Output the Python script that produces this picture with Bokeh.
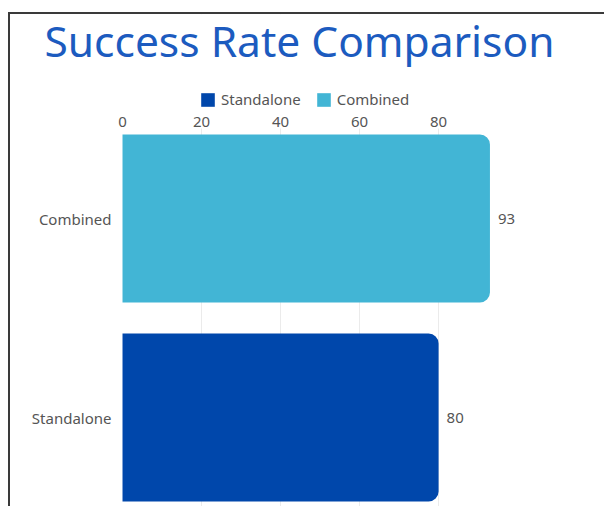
from bokeh.plotting import figure
from bokeh.models import (ColumnDataSource, Range1d, FixedTicker, Legend, LegendItem,
                          BoxAnnotation, Label)
from bokeh.core.properties import value
from bokeh.embed import file_html
from bokeh.resources import INLINE

# Data
categories = ["Standalone", "Combined"]
values = [80, 93]
colors = ["#0047ab", "#42b5d5"]
x_ticks = [0, 20, 40, 60, 80]
grid_ticks = [20, 40, 60, 80]
title_text = "Success Rate Comparison"

FONT = "Noto Sans"
LABEL_COLOR = "#555555"

# The plot frame fills the whole canvas; title, legend and both axes live inside it.
X_MIN, X_MAX = -28.35, 122.5
Y_MIN, Y_MAX = -0.457, 2.025
AXIS_Y = 1.452          # top axis line, just above the upper bar

positions = list(range(len(categories)))
src = ColumnDataSource(dict(y=positions, value=values,
                            label=[str(v) for v in values]))

p = figure(width=596, height=494, output_backend="svg", toolbar_location=None,
           x_range=Range1d(X_MIN, X_MAX), y_range=Range1d(Y_MIN, Y_MAX),
           x_axis_location="above",
           min_border_left=0, min_border_right=0, min_border_top=0,
           min_border_bottom=0)
p.outline_line_color = None
# thin dark frame line along the top and left of the chart card
p.styles = {"margin-left": "8px", "margin-top": "12px",
            "border-top": "2px solid #3a3a3a", "border-left": "2px solid #3a3a3a"}

# bars, rounded at the value end
renderers = []
for i in positions:
    sub = ColumnDataSource(dict(y=[positions[i]], value=[values[i]], color=[colors[i]]))
    r = p.hbar(y="y", right="value", left=0, height=0.844, fill_color="color",
               line_color=None, source=sub, border_radius=(0, 10, 10, 0))
    renderers.append(r)

# value labels at bar ends
p.text(x="value", y="y", text="label", source=src, x_offset=8,
       text_baseline="middle", text_align="left", text_font_size="15px",
       text_color=LABEL_COLOR, text_font=value(FONT))

# x axis (top), pinned just above the bars
xa = p.xaxis[0]
xa.fixed_location = AXIS_Y
xa.ticker = FixedTicker(ticks=x_ticks)
xa.axis_line_color = None
xa.major_tick_line_color = None
xa.minor_tick_line_color = None
xa.major_tick_out = 0
xa.major_tick_in = 0
xa.major_label_standoff = 2
xa.major_label_text_font = FONT
xa.major_label_text_font_size = "15px"
xa.major_label_text_color = LABEL_COLOR

# y axis (category labels), pinned at zero
ya = p.yaxis[0]
ya.fixed_location = 0
ya.ticker = FixedTicker(ticks=positions)
ya.major_label_overrides = {i: categories[i] for i in positions}
ya.axis_line_color = None
ya.major_tick_line_color = None
ya.minor_tick_line_color = None
ya.major_tick_out = 0
ya.major_tick_in = 0
ya.major_label_standoff = 11
ya.major_label_text_font = FONT
ya.major_label_text_font_size = "15px"
ya.major_label_text_color = LABEL_COLOR

p.xgrid.ticker = FixedTicker(ticks=grid_ticks)
p.xgrid.grid_line_color = "#ebebeb"
p.ygrid.grid_line_color = None

# keep grid lines out of the header strip above the axis
p.add_layout(BoxAnnotation(bottom=AXIS_Y, fill_color="white", fill_alpha=1,
                           line_color=None, level="underlay"))

# legend row between the title and the top axis
legend = Legend(items=[LegendItem(label=categories[i], renderers=[renderers[i]])
                       for i in positions],
                orientation="horizontal", location=(189, 399),
                glyph_width=17, glyph_height=17, label_standoff=5, spacing=14,
                padding=0, margin=0, border_line_color=None,
                background_fill_alpha=0,
                label_text_font=FONT, label_text_font_size="15px",
                label_text_color=LABEL_COLOR, label_height=17)
p.add_layout(legend)

# chart title
p.add_layout(Label(x=34, y=468, x_units="screen", y_units="screen",
                   text=title_text, text_font=FONT, text_font_size="42.5px",
                   text_color="#1c5bbf", text_baseline="alphabetic",
                   text_align="left"))

open("out.html", "w").write(file_html(p, INLINE))
